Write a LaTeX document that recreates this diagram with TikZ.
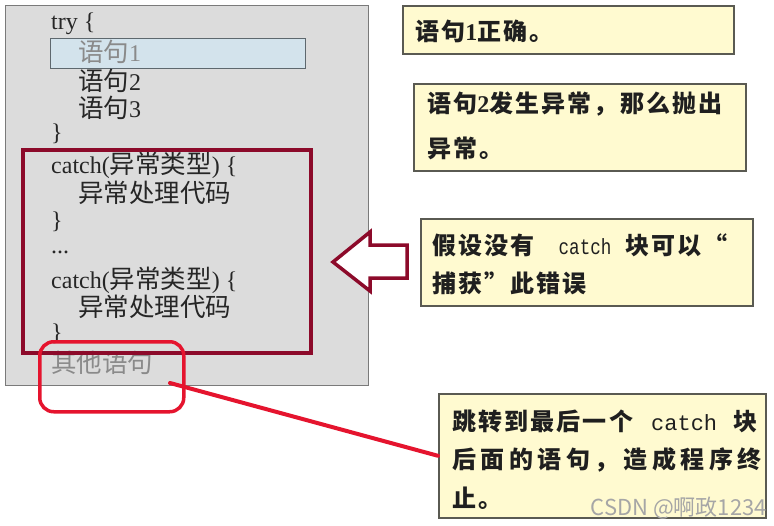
\documentclass[tikz,border=0pt]{standalone}
\usepackage{fontspec}
\setmainfont{Liberation Serif}
\newfontfamily\cjk{Noto Sans CJK SC}
\newfontfamily\cjkA{Noto Sans CJK SC}[LetterSpace=9]
\newfontfamily\cjkB{Noto Sans CJK SC}[LetterSpace=19]
\newfontfamily\monob{Liberation Mono}
\definecolor{grayfill}{HTML}{DCDCDC}
\definecolor{graybd}{HTML}{7A7A7A}
\definecolor{bluefill}{HTML}{D3E3EC}
\definecolor{bluebd}{HTML}{5E686E}
\definecolor{notefill}{HTML}{FFFAD0}
\definecolor{notebd}{HTML}{5A5A52}
\definecolor{darkred}{HTML}{8C0A2A}
\definecolor{brightred}{HTML}{E5142E}
\definecolor{codecol}{HTML}{262626}
\definecolor{dimcol}{HTML}{8A8A8A}
\newcommand{\zh}[1]{{\cjk\fontsize{25.5}{28}\selectfont #1}}
\newcommand{\cmono}[3]{\scalebox{#2}[1]{\monob\mdseries\fontsize{#1}{#1}\selectfont #3}}
\begin{document}
\begin{tikzpicture}[x=1pt,y=-1pt,
  code/.style={anchor=west, inner sep=0pt, text=codecol, font=\fontsize{24}{28}\selectfont},
  dimcode/.style={code, text=dimcol},
  graybox/.style={draw=graybd, fill=grayfill, line width=1.2pt, inner sep=0pt, anchor=north west},
  bluebox/.style={draw=bluebd, fill=bluefill, line width=1.2pt, inner sep=0pt, anchor=north west},
  notebox/.style={draw=notebd, fill=notefill, line width=1.6pt, inner sep=0pt, anchor=north west},
  notetext/.style={anchor=west, inner sep=0pt, text=black!88, font=\fontsize{24}{28}\selectfont\bfseries},
  catchbox/.style={draw=darkred, line width=4pt, inner sep=0pt, anchor=north west},
  redround/.style={draw=brightred, line width=3.5pt, rounded corners=14pt, inner sep=0pt, anchor=north west},
  redline/.style={draw=brightred, line width=4pt, line cap=round}]
\useasboundingbox (0,0) rectangle (774,525);
\fill[white] (0,0) rectangle (774,525);

% grey code panel
\node[graybox, minimum width=363pt, minimum height=380pt] (gbox) at (5,5) {};
\node[bluebox, minimum width=255pt, minimum height=30pt] (hl) at (50,38) {};

\node[code] (l1) at (51,24) {try \{};
\node[dimcode] (l2) at (78,52) {\zh{语句}1};
\node[code] (l3) at (78,81) {\zh{语句}2};
\node[code] (l4) at (78,108) {\zh{语句}3};
\node[code] (l5) at (51,134) {\}};
\node[code] (l6) at (51,165) {catch(\zh{异常类型}) \{};
\node[code] (l7) at (78,193) {\zh{异常处理代码}};
\node[code] (l8) at (51,222) {\}};
\node[code] (l9) at (51,252) {...};
\node[code] (l10) at (51,280) {catch(\zh{异常类型}) \{};
\node[code] (l11) at (78,307) {\zh{异常处理代码}};
\node[code] (l12) at (51,334) {\}};
\node[dimcode] (l13) at (51,363) {\zh{其他语句}};

% catch blocks frame
\node[catchbox, minimum width=288pt, minimum height=203pt] (cbox) at (21,148) {};

% hollow arrow
\draw[darkred, line width=3.5pt, fill=white, line join=miter]
  (333,262) -- (370,232) -- (370,245) -- (407,245) -- (407,278) -- (370,278) -- (370,291) -- cycle;

% notes
\node[notebox, minimum width=331pt, minimum height=48pt] (n1) at (402,5) {};
\node[notetext] (n1t) at (415,31) {{\cjkA 语句}1{\cjkA 正确。}};

\node[notebox, minimum width=332pt, minimum height=87pt] (n2) at (413,83) {};
\node[notetext] (n2a) at (427,104) {{\cjkA 语句}2{\cjkA 发生异常，那么抛出}};
\node[notetext] (n2b) at (427,148) {\cjkA 异常。};

\node[notebox, minimum width=332pt, minimum height=87pt] (n3) at (420,218) {};
\node[notetext] (n3a) at (432,245) {{\cjkA 假设没有}\hspace{24pt}\cmono{22}{0.8}{catch}\hspace{14pt}{\cjkA 块可以“}};
\node[notetext] (n3b) at (432,283) {\cjkA 捕获”此错误};

\node[notebox, minimum width=327pt, minimum height=124pt] (n4) at (438,393) {};
\node[notetext] (n4a) at (452,421) {{\cjkA 跳转到最后一个}\hspace{18pt}\cmono{22}{1}{catch}\hspace{16pt}{\cjkA 块}};
\node[notetext] (n4b) at (452,460) {\cjkB 后面的语句，造成程序终};
\node[notetext] (n4c) at (452,498) {\cjkA 止。};

% red highlight of following statement
\node[redround, minimum width=144pt, minimum height=70pt] (rr) at (38,340) {};
\coordinate (rs) at (170,383);
\draw[redline] (rs) -- (n4.west);

% watermark
\node[anchor=east, inner sep=0pt, text=black!35, font=\cjk\fontsize{22}{22}\selectfont] (wm) at (767,508) {CSDN @啊政1234};
\end{tikzpicture}
\end{document}
